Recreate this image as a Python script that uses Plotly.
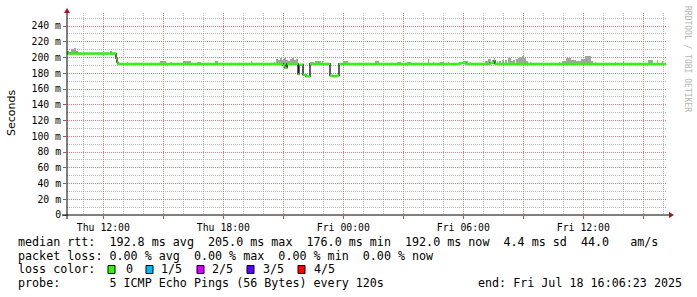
import pandas as pd
import plotly.graph_objects as go

# ---------------- data ----------------
window_start = "2025-07-17 10:11"
window_end = "2025-07-18 16:11"

median_times = ["2025-07-17 10:11", "2025-07-17 12:38", "2025-07-17 12:41", "2025-07-17 12:44",
                "2025-07-17 20:59", "2025-07-17 21:05", "2025-07-17 21:11", "2025-07-17 21:44",
                "2025-07-17 21:47", "2025-07-17 21:59", "2025-07-17 22:08", "2025-07-17 22:20",
                "2025-07-17 23:20", "2025-07-17 23:29", "2025-07-17 23:38", "2025-07-17 23:47",
                "2025-07-18 05:50", "2025-07-18 06:08", "2025-07-18 07:20", "2025-07-18 07:32",
                "2025-07-18 07:35", "2025-07-18 16:08"]
median_ms = [205, 199, 194, 192, 190, 187, 192, 179, 191, 178, 176, 192, 177, 176, 177, 192,
             193, 192, 193, 196, 192, 192]

smoke_start = ["2025-07-17 10:11", "2025-07-17 10:17", "2025-07-17 10:23", "2025-07-17 10:29",
               "2025-07-17 10:32", "2025-07-17 10:38", "2025-07-17 12:20",
               "2025-07-17 13:11", "2025-07-17 14:08", "2025-07-17 14:50", "2025-07-17 15:23",
               "2025-07-17 15:59", "2025-07-17 16:41", "2025-07-17 17:35", "2025-07-17 18:44",
               "2025-07-17 19:23", "2025-07-17 20:11", "2025-07-17 20:32",
               "2025-07-17 20:38", "2025-07-17 20:44", "2025-07-17 20:50", "2025-07-17 20:56",
               "2025-07-17 21:02", "2025-07-17 21:08", "2025-07-17 21:14", "2025-07-17 21:20",
               "2025-07-17 21:26", "2025-07-17 21:32", "2025-07-17 21:38",
               "2025-07-17 22:20", "2025-07-17 22:35", "2025-07-17 22:56", "2025-07-17 23:59",
               "2025-07-18 00:44", "2025-07-18 01:35", "2025-07-18 02:11", "2025-07-18 02:41",
               "2025-07-18 03:11", "2025-07-18 03:50", "2025-07-18 04:14", "2025-07-18 04:29",
               "2025-07-18 04:50", "2025-07-18 05:14",
               "2025-07-18 05:59", "2025-07-18 06:20", "2025-07-18 06:41", "2025-07-18 07:05",
               "2025-07-18 07:14", "2025-07-18 07:26", "2025-07-18 07:32", "2025-07-18 07:41",
               "2025-07-18 07:47", "2025-07-18 07:56", "2025-07-18 08:05", "2025-07-18 08:14",
               "2025-07-18 08:23", "2025-07-18 08:29", "2025-07-18 08:38", "2025-07-18 08:44",
               "2025-07-18 08:50", "2025-07-18 08:56", "2025-07-18 09:02", "2025-07-18 09:08",
               "2025-07-18 09:20", "2025-07-18 09:56", "2025-07-18 10:29", "2025-07-18 10:47",
               "2025-07-18 10:56", "2025-07-18 11:08", "2025-07-18 11:23", "2025-07-18 11:38",
               "2025-07-18 11:53", "2025-07-18 12:05", "2025-07-18 12:23", "2025-07-18 12:35",
               "2025-07-18 13:35", "2025-07-18 13:59", "2025-07-18 15:14", "2025-07-18 15:41",
               "2025-07-18 15:56"]
smoke_minutes = [6, 6, 6, 3, 6, 6, 6,
                 3, 6, 18, 3, 24, 12, 9, 3, 3, 3, 3,
                 6, 6, 6, 6, 6, 6, 6, 6, 6, 6, 6,
                 12, 18, 3, 15, 3, 12, 3, 12, 12, 3, 3, 3, 12, 3,
                 15, 3, 3, 9, 9, 3, 3, 3, 6, 6, 6, 9, 6, 6, 6, 6, 6, 6, 6, 6, 3, 3, 3, 3,
                 12, 15, 15, 15, 12, 18, 6, 3, 3, 3, 15, 3, 3]
smoke_top_ms = [208, 207, 211, 209, 212, 208, 208,
                194, 193.5, 195, 194, 195, 194, 196, 193.5, 196, 193, 194,
                198, 197, 200, 197, 199, 197, 196, 198, 200, 197, 198,
                194, 195, 195, 196, 193, 195, 193, 194, 194, 193, 198, 194, 194, 194,
                196, 194, 193, 196, 198, 197, 200, 196, 195, 197, 197, 199, 196, 197, 198,
                200, 201, 202, 199, 196, 194, 193, 193, 194,
                195.5, 199, 197, 196, 198, 202, 196, 194, 194, 195, 197, 197, 195]

y_tick_values = [0, 20, 40, 60, 80, 100, 120, 140, 160, 180, 200, 220, 240]
y_tick_labels = ["0", "20 m", "40 m", "60 m", "80 m", "100 m", "120 m", "140 m", "160 m",
                 "180 m", "200 m", "220 m", "240 m"]
x_tick_values = ["2025-07-17 12:00", "2025-07-17 15:00", "2025-07-17 18:00", "2025-07-17 21:00",
                 "2025-07-18 00:00", "2025-07-18 03:00", "2025-07-18 06:00", "2025-07-18 09:00",
                 "2025-07-18 12:00", "2025-07-18 15:00"]
x_tick_labels = ["Thu 12:00", "", "Thu 18:00", "", "Fri 00:00", "", "Fri 06:00", "",
                 "Fri 12:00", ""]

legend_lines = [
    "median rtt:  192.8 ms avg  205.0 ms max  176.0 ms min  192.0 ms now  4.4 ms sd  44.0   am/s",
    "packet loss: 0.00 % avg  0.00 % max  0.00 % min  0.00 % now",
    "loss color:",
    "probe:       5 ICMP Echo Pings (56 Bytes) every 120s",
]
loss_labels = ["0", "1/5", "2/5", "3/5", "4/5"]
loss_colors = ["#26ff00", "#00b8ff", "#d400ff", "#5e00ff", "#ff0000"]
end_label = "end: Fri Jul 18 16:06:23 2025"

# ---------------- build ----------------
mt = pd.to_datetime(median_times)
med = pd.Series(median_ms, index=mt)


def median_at(t):
    return med[med.index <= t].iloc[-1]


ss = pd.to_datetime(smoke_start)
dur = pd.to_timedelta(smoke_minutes, unit="m")
mid = ss + dur / 2
base = [median_at(t) for t in ss]
height = [top - b for top, b in zip(smoke_top_ms, base)]

fig = go.Figure()
fig.add_trace(go.Bar(x=mid, y=height, base=base, width=dur.total_seconds() * 1000,
                     marker=dict(color="#a4a4a4", line=dict(width=0)),
                     hoverinfo="skip", showlegend=False))
# dark step connector
fig.add_trace(go.Scatter(x=mt, y=median_ms, mode="lines", line=dict(color="#1e1e1e", width=1.4, shape="hv"),
                         hoverinfo="skip", showlegend=False))
# green horizontal segments
gx, gy = [], []
for i in range(len(mt) - 1):
    gx += [mt[i], mt[i + 1], None]
    gy += [median_ms[i], median_ms[i], None]
fig.add_trace(go.Scatter(x=gx, y=gy, mode="lines", line=dict(color="#26ff00", width=2.2),
                         hoverinfo="skip", showlegend=False))

L, R, T, B = 67, 667, 13, 215
W, H = R - L, B - T


def px(x, y):
    return (x - L) / W, (B - y) / H


MONO = "DejaVu Sans Mono"
major_grid = "rgba(225,110,110,0.75)"
minor_grid = "rgba(160,160,160,0.75)"

shapes = []
# axes lines
x0, y0 = px(62, 215)
x1, _ = px(669, 215)
shapes.append(dict(type="line", xref="paper", yref="paper", x0=x0, x1=x1, y0=0, y1=0,
                   line=dict(color="black", width=1)))
_, ya = px(67, 219)
_, yb = px(67, 12)
shapes.append(dict(type="line", xref="paper", yref="paper", x0=0, x1=0, y0=ya, y1=yb,
                   line=dict(color="black", width=1)))


def tri(pts):
    s = ""
    for i, (a, b) in enumerate(pts):
        pa, pb = px(a, b)
        s += ("M" if i == 0 else "L") + f"{pa:.5f},{pb:.5f} "
    return s + "Z"


shapes.append(dict(type="path", xref="paper", yref="paper", path=tri([(64, 13), (70, 13), (67, 8)]),
                   fillcolor="#a01c1c", line=dict(width=0)))
shapes.append(dict(type="path", xref="paper", yref="paper", path=tri([(669, 212), (669, 218), (674, 215)]),
                   fillcolor="#a01c1c", line=dict(width=0)))

annotations = []
line_y = [241.7, 255.7, 269.3, 283.3]
for txt, yy in zip(legend_lines, line_y):
    ax, ay = px(15.5, yy)
    annotations.append(dict(xref="paper", yref="paper", x=ax, y=ay, xanchor="left", yanchor="middle",
                            text=txt.replace(" ", "&nbsp;"), showarrow=False,
                            font=dict(family=MONO, size=11.7, color="black")))
box_x = [108, 146, 197, 247, 298]
lab_x = [124, 159, 210, 261, 312]
for bx, lx, lab, col in zip(box_x, lab_x, loss_labels, loss_colors):
    a0, b0 = px(bx, 273.5)
    a1, b1 = px(bx + 7, 265.5)
    shapes.append(dict(type="rect", xref="paper", yref="paper", x0=a0, x1=a1, y0=b0, y1=b1,
                       fillcolor=col, line=dict(color="black", width=1)))
    ax, ay = px(lx, 269.3)
    annotations.append(dict(xref="paper", yref="paper", x=ax, y=ay, xanchor="left", yanchor="middle",
                            text=lab, showarrow=False, font=dict(family=MONO, size=11.7, color="black")))
ax, ay = px(684, 283.3)
annotations.append(dict(xref="paper", yref="paper", x=ax, y=ay, xanchor="right", yanchor="middle",
                        text=end_label.replace(" ", "&nbsp;"), showarrow=False,
                        font=dict(family=MONO, size=11.7, color="black")))
ax, ay = px(11, 113)
annotations.append(dict(xref="paper", yref="paper", x=ax, y=ay, xanchor="center", yanchor="middle",
                        text="Seconds", textangle=-90, showarrow=False,
                        font=dict(family="DejaVu Sans", size=11, color="black")))
ax, ay = px(687, 59)
annotations.append(dict(xref="paper", yref="paper", x=ax, y=ay, xanchor="center", yanchor="middle",
                        text="RRDTOOL&nbsp;/&nbsp;TOBI&nbsp;OETIKER", textangle=90, showarrow=False,
                        font=dict(family=MONO, size=8, color="#b4b4b4")))

fig.update_layout(
    width=697, height=297,
    margin=dict(l=L, r=697 - R, t=T, b=297 - B),
    paper_bgcolor="white", plot_bgcolor="white",
    bargap=0, barmode="overlay",
    shapes=shapes, annotations=annotations,
    showlegend=False,
    xaxis=dict(type="date", range=[window_start, window_end], tickmode="array",
               tickvals=x_tick_values, ticktext=x_tick_labels,
               ticks="outside", ticklen=3, tickcolor="rgba(160,40,40,0.8)",
               tickfont=dict(family=MONO, size=9.8, color="black"),
               showgrid=True, gridcolor=major_grid, griddash="1px,1px", gridwidth=1,
               minor=dict(dtick=3600000, tick0="2025-07-17 00:00", showgrid=True,
                          gridcolor=minor_grid, griddash="1px,1px", ticks=""),
               zeroline=False, showline=False, fixedrange=True),
    yaxis=dict(range=[0, H / 0.7875], tickmode="array", tickvals=y_tick_values,
               ticktext=y_tick_labels, ticks="outside", ticklen=3,
               tickcolor="rgba(160,40,40,0.8)",
               tickfont=dict(family=MONO, size=9.8, color="black"),
               showgrid=True, gridcolor=major_grid, griddash="1px,1px", gridwidth=1,
               minor=dict(dtick=10, tick0=0, showgrid=True, gridcolor=minor_grid,
                          griddash="1px,1px", ticks=""),
               zeroline=False, showline=False, fixedrange=True),
)

fig.write_html("out.html", config={"displayModeBar": False, "staticPlot": True})
